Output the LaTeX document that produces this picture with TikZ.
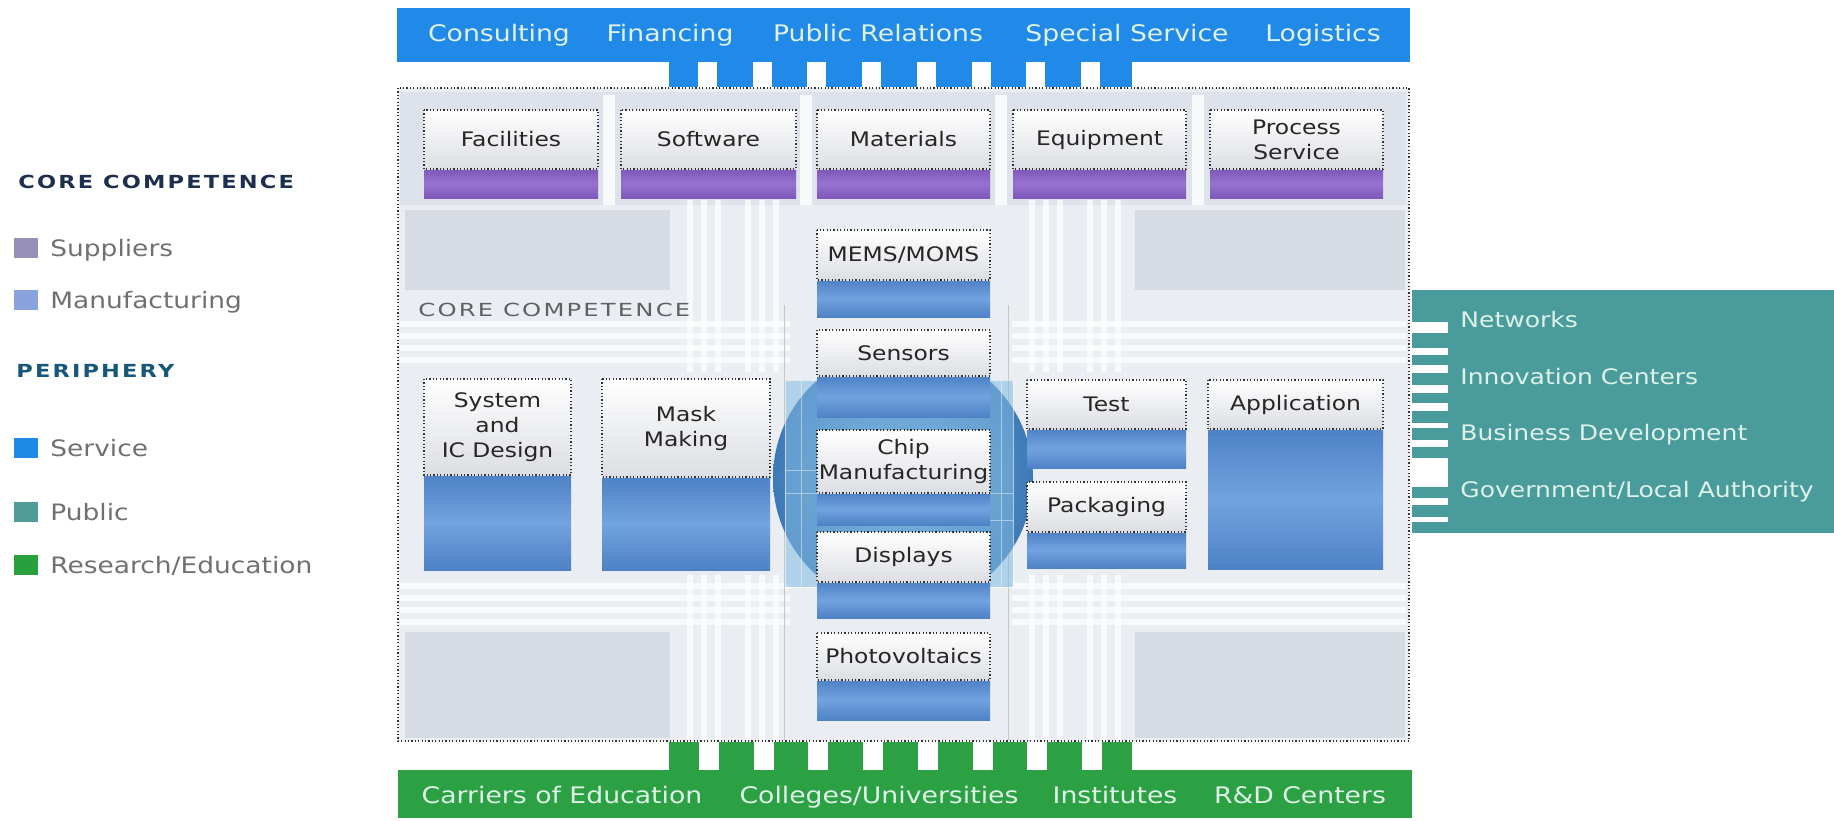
\documentclass[tikz,border=0pt]{standalone}
\usepackage{fontspec}
\setmainfont{DejaVu Sans}[FakeStretch=1.17]
\newfontfamily\headfont{DejaVu Sans}[FakeStretch=1.25,LetterSpace=12]
\newfontfamily\innerfont{DejaVu Sans}[FakeStretch=1.35,LetterSpace=12]
\definecolor{barblue}{RGB}{33,137,232}
\definecolor{tealc}{RGB}{74,156,156}
\definecolor{greenc}{RGB}{44,161,68}
\definecolor{bartxt}{RGB}{222,242,232}
\definecolor{purp1}{RGB}{126,88,186}
\definecolor{purp2}{RGB}{152,114,208}
\definecolor{mblue1}{RGB}{78,130,198}
\definecolor{mblue2}{RGB}{114,162,224}
\definecolor{labbot}{RGB}{220,222,227}
\definecolor{framebg}{RGB}{234,237,242}
\definecolor{blockbg}{RGB}{214,219,228}
\definecolor{circ1}{RGB}{62,122,182}
\definecolor{circ2}{RGB}{112,168,216}
\definecolor{chipsq}{RGB}{128,186,226}
\definecolor{legtxt}{RGB}{112,112,112}
\definecolor{navy}{RGB}{28,48,78}
\definecolor{perc}{RGB}{22,88,122}
\definecolor{innerc}{RGB}{96,96,100}
\definecolor{swsup}{RGB}{150,144,182}
\definecolor{swman}{RGB}{138,162,222}
\definecolor{swser}{RGB}{30,136,229}
\definecolor{swpub}{RGB}{80,156,150}
\definecolor{swres}{RGB}{40,160,62}
\tikzset{
  lab/.style={font=\fontsize{10pt}{12.5pt}\selectfont, text=black!85, align=center, inner sep=0pt},
  barlab/.style={font=\fontsize{11.4pt}{13pt}\selectfont, text=bartxt, inner sep=0pt, text height=8.3pt, text depth=0pt},
  publab/.style={font=\fontsize{10.7pt}{13pt}\selectfont, text=bartxt, anchor=west, inner sep=0pt, text height=7.8pt, text depth=0pt},
  leglab/.style={font=\fontsize{11.3pt}{13pt}\selectfont, text=legtxt, anchor=west, inner sep=0pt, text height=8.2pt, text depth=0pt},
  headlab/.style={font=\headfont\bfseries\fontsize{9pt}{11pt}\selectfont, anchor=west, inner sep=0pt, text height=6.6pt, text depth=0pt},
  innerlab/.style={font=\innerfont\fontsize{9pt}{11pt}\selectfont, text=innerc, anchor=west, inner sep=0pt, text height=6.6pt, text depth=0pt},
  dotb/.style={line width=0.6pt, dash pattern=on 0.6pt off 1.1pt, black!80},
  labbg/.style={top color=white, bottom color=labbot},
  purp/.style={top color=purp1, bottom color=purp1, middle color=purp2},
  manu/.style={top color=mblue1, bottom color=mblue1, middle color=mblue2},
  trace/.style={white, line width=3pt, opacity=0.7}
}
\newcommand{\capbox}[8]{%
  \fill[#6] (#1,#4) rectangle (#3,#5);
  \fill[labbg] (#1,#2) rectangle (#3,#4);
  \draw[dotb] (#1,#2) rectangle (#3,#4);
  \node[lab] (#7) at ({(#1+#3)/2},{(#2+#4)/2}) {#8};
}
\begin{document}
\begin{tikzpicture}[x=0.5pt,y=-0.5pt]
\useasboundingbox (0,0) rectangle (1834,820);
\fill[white] (0,0) rectangle (1834,820);

% ---------- legend ----------
\node[headlab, text=navy] (lgcore) at (18,182) {CORE COMPETENCE};
\fill[swsup] (14,238) rectangle (38,258);
\node[leglab] (lgsup) at (50,248) {Suppliers};
\fill[swman] (14,290) rectangle (38,310);
\node[leglab] (lgman) at (50,300) {Manufacturing};
\node[headlab, text=perc] (lgper) at (16,371) {PERIPHERY};
\fill[swser] (14,438) rectangle (38,458);
\node[leglab] (lgser) at (50,448) {Service};
\fill[swpub] (14,502) rectangle (38,522);
\node[leglab] (lgpub) at (50,512) {Public};
\fill[swres] (14,555) rectangle (38,575);
\node[leglab] (lgres) at (50,565) {Research/Education};

% ---------- frame background ----------
\fill[framebg] (398,88) rectangle (1409,741);
\fill[blockbg!60!framebg] (400,92) rectangle (1406,205);
\fill[blockbg] (405,210) rectangle (670,290);
\fill[blockbg] (1135,210) rectangle (1405,290);
\fill[blockbg] (405,632) rectangle (670,738);
\fill[blockbg] (1135,632) rectangle (1405,738);
% white traces
\foreach \y in {324,336,348,360} {
  \draw[trace] (400,\y) -- (790,\y);
  \draw[trace] (1012,\y) -- (1406,\y);
}
\foreach \y in {586,598,610,622} {
  \draw[trace] (400,\y) -- (790,\y);
  \draw[trace] (1012,\y) -- (1406,\y);
}
\foreach \x in {690,704,718,748,762,776} {
  \draw[trace] (\x,200) -- (\x,372);
  \draw[trace] (\x,575) -- (\x,740);
}
\foreach \x in {1032,1046,1060,1090,1104,1118} {
  \draw[trace] (\x,200) -- (\x,372);
  \draw[trace] (\x,575) -- (\x,740);
}
\foreach \x in {609,806,1001,1198} {
  \draw[white, line width=6pt, opacity=0.8] (\x,95) -- (\x,205);
}
\draw[gray!45, line width=0.4pt] (784,305) -- (784,740);
\draw[gray!45, line width=0.4pt] (1008,305) -- (1008,740);

% ---------- central chip ----------
\shade[inner color=circ2, outer color=circ1] (903,478) circle[radius=65pt];
\fill[chipsq, opacity=0.55] (785,380) rectangle (1013,587);
\draw[white, opacity=0.6, line width=0.4pt] (785,380) rectangle (1013,587);
\draw[white, opacity=0.45, line width=0.4pt] (801,380) -- (801,587) (1001,380) -- (1001,587)
  (785,493) -- (1013,493) (785,470) -- (817,470) (990,520) -- (1013,520);

% ---------- inner heading ----------
\node[innerlab] (corein) at (418,310) {CORE COMPETENCE};

% ---------- supplier boxes ----------
\capbox{424}{110}{598}{169}{198}{purp}{fac}{Facilities}
\capbox{621}{110}{796}{169}{198}{purp}{soft}{Software}
\capbox{817}{110}{990}{169}{198}{purp}{mat}{Materials}
\capbox{1013}{110}{1186}{169}{198}{purp}{equ}{Equipment}
\capbox{1210}{110}{1383}{169}{198}{purp}{proc}{Process\\Service}

% ---------- manufacturing boxes ----------
\capbox{424}{379}{571}{475}{570}{manu}{sys}{System\\and\\IC Design}
\capbox{602}{379}{770}{477}{570}{manu}{mask}{Mask\\Making}
\capbox{1027}{380}{1186}{429}{468}{manu}{test}{Test}
\capbox{1027}{482}{1186}{532}{568}{manu}{pack}{Packaging}
\capbox{1208}{380}{1383}{429}{569}{manu}{app}{Application}
\capbox{817}{230}{990}{280}{317}{manu}{mems}{MEMS/MOMS}
\capbox{817}{330}{990}{376}{417}{manu}{sens}{Sensors}
\capbox{817}{430}{990}{493}{525}{manu}{chip}{Chip\\Manufacturing}
\capbox{817}{532}{990}{582}{618}{manu}{disp}{Displays}
\capbox{817}{633}{990}{680}{720}{manu}{pv}{Photovoltaics}

% ---------- frame ----------
\draw[dotb] (398,88) rectangle (1409,741);

% ---------- top service bar ----------
\fill[barblue] (397,8) rectangle (1410,62);
\fill[barblue] (669,62) rectangle (1132,87);
\foreach \i in {0,...,7} \fill[white] ({698+54.7*\i},62) rectangle ({717+54.7*\i},87);
\node[barlab] (cons) at (499,33) {Consulting};
\node[barlab] (fin) at (670,33) {Financing};
\node[barlab] (pr) at (878,33) {Public Relations};
\node[barlab] (spec) at (1127,33) {Special Service};
\node[barlab] (logi) at (1323,33) {Logistics};

% ---------- bottom research bar ----------
\fill[greenc] (669,742) rectangle (1132,770);
\foreach \i in {0,...,7} \fill[white] ({699+54.7*\i},742) rectangle ({719+54.7*\i},770);
\fill[greenc] (398,770) rectangle (1412,818);
\node[barlab] (carr) at (562,795) {Carriers of Education};
\node[barlab] (coll) at (879,795) {Colleges/Universities};
\node[barlab] (inst) at (1115,795) {Institutes};
\node[barlab] (rnd) at (1300,795) {R\&D Centers};

% ---------- right public panel ----------
\fill[tealc] (1412,290) rectangle (1834,533);
\foreach \a/\b in {322/333,348/355,365/373,385/393,403/411,423/428,440/447,458/487,498/505,517/522}
  \fill[white] (1412,\a) rectangle (1448,\b);
\node[publab] (netw) at (1460,320) {Networks};
\node[publab] (innov) at (1460,377) {Innovation Centers};
\node[publab] (busi) at (1460,433) {Business Development};
\node[publab] (gov) at (1460,490) {Government/Local Authority};
\end{tikzpicture}
\end{document}
